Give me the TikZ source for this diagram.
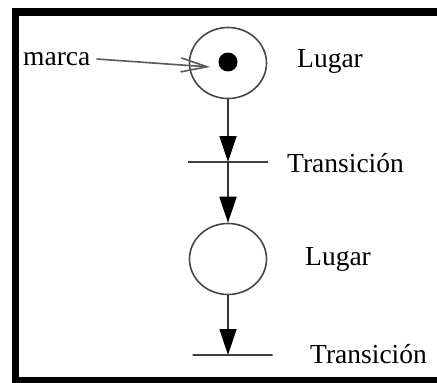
\documentclass[tikz,border=0pt]{standalone}
\usepackage{fontspec}
\setmainfont{Liberation Serif}
\usetikzlibrary{arrows.meta,shapes.geometric}
\begin{document}
\begin{tikzpicture}[x=1pt,y=-1pt,
  place/.style={draw=black!72, line width=1.6pt, ellipse, minimum width=77pt, minimum height=71pt, inner sep=0pt},
  trans/.style={draw=black!75, line width=1.6pt, rectangle, minimum width=80pt, minimum height=0pt, inner sep=0pt},
  lbl/.style={anchor=base west, inner sep=0pt, font=\fontsize{27.5}{31}\selectfont, text=black},
  flow/.style={draw=black!80, line width=1.8pt, -{Triangle[length=26pt,width=17pt,fill=black,color=black]}},
  pointer/.style={draw=black!65, line width=1.6pt, -{Straight Barb[length=26pt,width=14pt]}},
  token/.style={circle, fill=black, minimum size=19pt, inner sep=0pt},
  framebar/.style={fill=black}
]
\useasboundingbox (0,0) rectangle (437,383);
% frame
\fill[framebar] (12,8) rectangle (19,383);
\fill[framebar] (12,8) rectangle (437,16);
\fill[framebar] (12,377) rectangle (437,383);
% places and transitions
\node[place] (p1) at (228,63) {};
\node[token] (tok) at (228,62) {};
\node[trans] (t1) at (228,162) {};
\node[place] (p2) at (228,259) {};
\node[trans] (t2) at (232.5,355) {};
% labels
\node[lbl] (l1) at (297,67) {Lugar};
\node[lbl] (tl1) at (287,172) {Transición};
\node[lbl] (l2) at (305,265) {Lugar};
\node[lbl] (tl2) at (310,363) {Transición};
\node[lbl] (marca) at (23,65) {marca};
\coordinate (mtip) at (210,67);
% connectors
\draw[pointer] ([xshift=6pt]marca.east |- 0,59) -- (mtip);
\draw[flow] (p1.south) -- (t1.center);
\draw[flow] (t1.center) -- (p2.north);
\draw[flow] (p2.south) -- (p2.south |- t2.center);
\end{tikzpicture}
\end{document}
